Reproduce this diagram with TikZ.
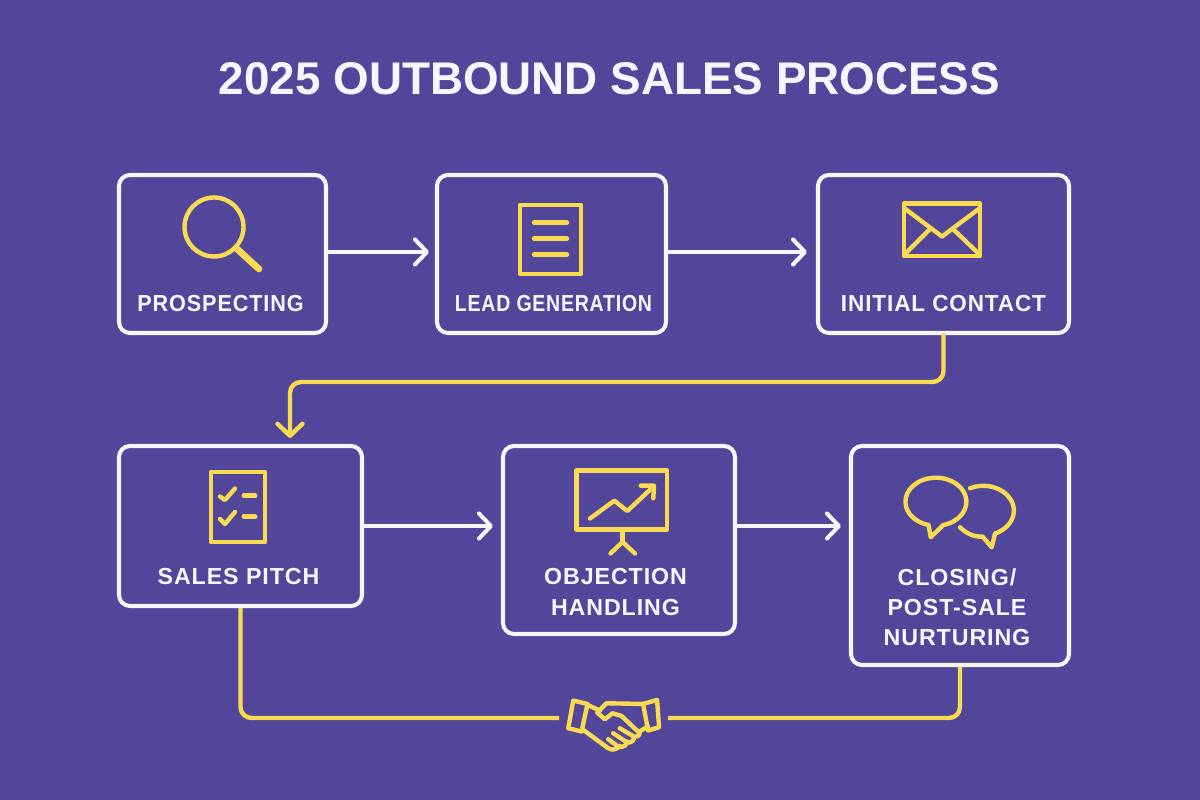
\documentclass[tikz,border=0pt]{standalone}
\usepackage{fontspec}
\setmainfont{Liberation Sans}
\newfontfamily\titlefont{Liberation Sans}
\newfontfamily\labelfont[LetterSpace=4]{Liberation Sans}
\usetikzlibrary{arrows.meta}
\definecolor{bgviolet}{HTML}{51469A}
\definecolor{boxwhite}{HTML}{F7F5FF}
\definecolor{iconyellow}{HTML}{FADA50}
\tikzset{
	stepbox/.style={draw=boxwhite,line width=1.15pt,rounded corners=0.11cm,inner sep=0pt},
	steplabel/.style={text=boxwhite,font=\labelfont\bfseries\fontsize{6.6}{8.6}\selectfont,align=center,inner sep=0pt},
	whitearrow/.style={draw=boxwhite,line width=1.15pt,line cap=round,-{Straight Barb[length=0.12cm,width=0.25cm,round]}},
	yellowline/.style={draw=iconyellow,line width=1.25pt,rounded corners=0.11cm},
	icon/.style={draw=iconyellow,line width=1.25pt,line cap=round,line join=round}
}
\begin{document}
\begin{tikzpicture}
	\useasboundingbox[fill=bgviolet] (0,0) rectangle (12,-8);
	\node[text=boxwhite,font=\titlefont\bfseries\fontsize{13.03}{16}\selectfont,inner sep=0pt] at (6.095,-0.79) (title) {2025 OUTBOUND SALES PROCESS};
	% top row
	\node[stepbox,minimum width=2.07cm,minimum height=1.58cm] at (2.225,-2.54) (prospecting) {};
	\node[stepbox,minimum width=2.29cm,minimum height=1.58cm] at (5.515,-2.54) (leadgen) {};
	\node[stepbox,minimum width=2.51cm,minimum height=1.58cm] at (9.435,-2.54) (initial) {};
	\node[steplabel] at (2.205,-3.04) (prospectinglabel) {\scalebox{0.933}[1]{PROSPECTING}};
	\node[steplabel] at (5.535,-3.04) (leadgenlabel) {\scalebox{0.84}[1]{LEAD GENERATION}};
	\node[steplabel] at (9.435,-3.04) (initiallabel) {\scalebox{0.97}[1]{INITIAL CONTACT}};
	% bottom row
	\node[stepbox,minimum width=2.43cm,minimum height=1.60cm] at (2.405,-5.26) (pitch) {};
	\node[stepbox,minimum width=2.32cm,minimum height=1.88cm] at (6.19,-5.40) (objection) {};
	\node[stepbox,minimum width=2.18cm,minimum height=2.19cm] at (9.60,-5.555) (closing) {};
	\node[steplabel] at (2.385,-5.77) (pitchlabel) {SALES PITCH};
	\node[steplabel] at (6.155,-5.92) (objectionlabel) {OBJECTION\\HANDLING};
	\node[steplabel] at (9.57,-6.07) (closinglabel) {CLOSING/\\POST-SALE\\NURTURING};
	% white arrows
	\draw[whitearrow,shorten >=0.06cm] ([yshift=0.02cm]prospecting.east) -- ([yshift=0.02cm]leadgen.west);
	\draw[whitearrow,shorten >=0.09cm] ([yshift=0.02cm]leadgen.east) -- ([yshift=0.02cm]initial.west);
	\draw[whitearrow,shorten >=0.08cm] (pitch.east) -- (pitch.east -| objection.west);
	\draw[whitearrow,shorten >=0.08cm] (objection.east |- pitch.east) -- (closing.west |- pitch.east);
	% yellow connectors
	\coordinate (turn) at (2.90,-3.82);
	\coordinate (pitchin) at (2.90,-4.38);
	\coordinate (shakeleft) at (5.59,-7.18);
	\coordinate (shakeright) at (6.68,-7.18);
	\draw[yellowline,line cap=round,-{Straight Barb[length=0.12cm,width=0.25cm,round]}] (initial.south) |- (turn) -- (pitchin);
	\draw[yellowline] (pitch.south) |- (shakeleft);
	\draw[yellowline] (closing.south) |- (shakeright);
	% magnifier
	\draw[icon] (2.14,-2.27) circle (0.295);
	\draw[icon,line width=1.9pt] (2.36,-2.48) -- (2.59,-2.69);
	% document
	\draw[icon] (5.20,-2.05) rectangle (5.81,-2.74);
	\draw[icon] (5.34,-2.225) -- (5.67,-2.225);
	\draw[icon] (5.34,-2.385) -- (5.67,-2.385);
	\draw[icon] (5.34,-2.545) -- (5.67,-2.545);
	% envelope
	\draw[icon] (9.04,-2.035) rectangle (9.80,-2.56);
	\draw[icon] (9.04,-2.08) -- (9.42,-2.365) -- (9.80,-2.08);
	\draw[icon] (9.05,-2.54) -- (9.30,-2.29);
	\draw[icon] (9.79,-2.54) -- (9.53,-2.29);
	% checklist
	\draw[icon] (2.11,-4.72) rectangle (2.65,-5.42);
	\draw[icon] (2.20,-4.965) -- (2.25,-5.00) -- (2.35,-4.885);
	\draw[icon] (2.20,-5.19) -- (2.25,-5.24) -- (2.35,-5.12);
	\draw[icon,line width=1.4pt] (2.44,-4.957) -- (2.55,-4.957);
	\draw[icon,line width=1.4pt] (2.44,-5.167) -- (2.55,-5.167);
	% presentation board
	\draw[icon] (5.765,-4.705) rectangle (6.67,-5.295);
	\draw[icon] (6.225,-5.295) -- (6.225,-5.42);
	\draw[icon] (6.105,-5.535) -- (6.225,-5.42) -- (6.35,-5.535);
	\draw[icon] (5.90,-5.185) -- (6.143,-5.007) -- (6.273,-5.11) -- (6.533,-4.867);
	\draw[icon] (6.407,-4.857) -- (6.54,-4.857) -- (6.533,-4.983);
	% speech bubbles
	\draw[icon] (9.433,-5.25) arc[start angle=-76,end angle=256,x radius=0.305,y radius=0.24] -- (9.307,-5.373) -- cycle;
	\draw[icon] (9.70,-4.883) arc[start angle=116,end angle=-67.5,x radius=0.305,y radius=0.248] -- (9.917,-5.473) -- (9.827,-5.367) .. controls (9.73,-5.37) and (9.66,-5.33) .. (9.60,-5.273);
	% handshake
	\begin{scope}[shift={(5.40,-6.80)},x=0.00333cm,y=-0.00333cm]
		\draw[icon] (100,62) -- (143,72) -- (125,155) -- (85,145) -- cycle;
		\draw[icon] (310,72) -- (352,60) -- (358,142) -- (325,152) -- cycle;
		\draw[icon] (143,75) -- (180,92);
		\draw[icon] (310,72) -- (200,70) -- (172,98) -- (195,118) -- (218,100) -- (245,108) -- (298,158);
		\draw[icon] (130,150) -- (205,205) .. controls (220,215) and (235,205) .. (240,198);
		\draw[icon] (205,178) -- (235,200) .. controls (250,205) and (262,195) .. (262,185);
		\draw[icon] (220,160) -- (262,188) .. controls (275,190) and (285,180) .. (282,170);
		\draw[icon] (240,145) -- (282,170) .. controls (295,172) and (302,165) .. (298,155);
		\draw[icon] (298,155) -- (325,140);
	\end{scope}
\end{tikzpicture}
\end{document}
